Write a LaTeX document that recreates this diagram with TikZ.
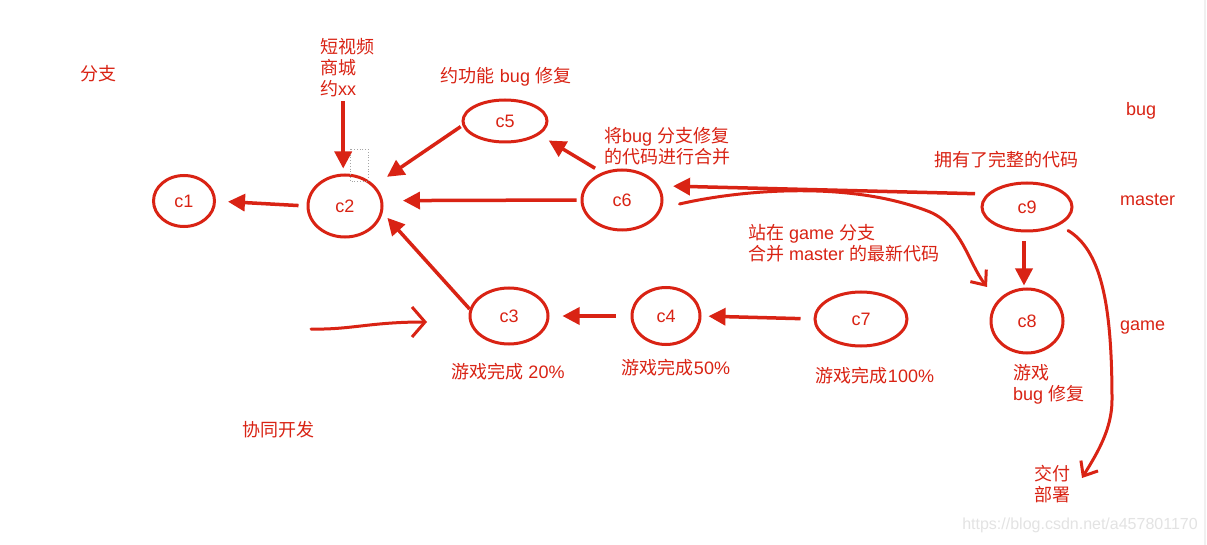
\documentclass[tikz,border=0pt]{standalone}
\usepackage{fontspec}
\setmainfont{Liberation Sans}
\newfontfamily\cjk{Noto Sans CJK SC}
\newcommand{\zh}[1]{{\cjk #1}}
\usetikzlibrary{shapes.geometric,arrows.meta,calc}
\definecolor{pen}{RGB}{217,35,20}
\begin{document}
\begin{tikzpicture}[x=1pt,y=-1pt,
  every node/.style={text=pen, font=\fontsize{18}{21}\selectfont},
  cnode/.style={ellipse, draw=pen, line width=3pt, inner sep=0pt},
  txt/.style={inner sep=0pt, align=left},
  arr/.style={draw=pen, line width=3.5pt, -{Triangle[length=17pt,width=17pt]}},
  barb/.style={draw=pen, line width=3pt, line cap=round, line join=round}
]
\useasboundingbox (0,0) rectangle (1207,545);
\fill[white] (0,0) rectangle (1207,545);
\draw[gray!12, line width=1.5pt] (1205,0) -- (1205,545);

% commits
\node[cnode, minimum width=61pt, minimum height=51pt] (c1) at (184,201) {c1};
\node[cnode, minimum width=74pt, minimum height=62pt] (c2) at (345,206) {c2};
\node[cnode, minimum width=84pt, minimum height=42pt] (c5) at (505,121) {c5};
\node[cnode, minimum width=80pt, minimum height=60pt] (c6) at (622,200) {c6};
\node[cnode, minimum width=90pt, minimum height=48pt] (c9) at (1027,207) {c9};
\node[cnode, minimum width=72pt, minimum height=64pt] (c8) at (1027,321) {c8};
\node[cnode, minimum width=78pt, minimum height=56pt] (c3) at (509,316) {c3};
\node[cnode, minimum width=68pt, minimum height=57pt] (c4) at (666,316) {c4};
\node[cnode, minimum width=92pt, minimum height=54pt] (c7) at (861,319) {c7};

% labels
\node[txt, anchor=west] (fz) at (80,74) {\zh{分支}};
\node[txt, anchor=west] (lbl) at (320,68) {\zh{短视频}\\\zh{商城}\\\zh{约}xx};
\node[txt] (l5) at (506,77) {\zh{约功能} bug \zh{修复}};
\node[txt, anchor=west] (l6) at (604,146) {\zh{将}bug \zh{分支修复}\\\zh{的代码进行合并}};
\node[txt, anchor=west] (l9) at (934,160) {\zh{拥有了完整的代码}};
\node[txt, anchor=west] (bbug) at (1126,111) {bug};
\node[txt, anchor=west] (bmaster) at (1120,200) {master};
\node[txt, anchor=west] (bgame) at (1120,328) {game};
\node[txt, anchor=west] (lm) at (748,243) {\zh{站在} game \zh{分支}\\\zh{合并} master \zh{的最新代码}};
\node[txt] (l3) at (508,372) {\zh{游戏完成} 20\%};
\node[txt] (l4) at (676,368) {\zh{游戏完成}50\%};
\node[txt] (l7) at (875,376) {\zh{游戏完成}100\%};
\node[txt, anchor=west] (l8) at (1013,384) {\zh{游戏}\\bug \zh{修复}};
\node[txt] (xt) at (278,430) {\zh{协同开发}};
\node[txt, anchor=west] (jf) at (1034,484) {\zh{交付}\\\zh{部署}};
\node[inner sep=0pt, text=gray!22, font=\fontsize{16}{16}\selectfont] (wm) at (1080,525) {https://blog.csdn.net/a457801170};

% dotted selection box
\draw[gray!70, dotted, line width=0.8pt] (350,149) rectangle (368,181);

% arrows
\draw[arr, shorten <=4pt, shorten >=5pt] ([xshift=-4pt]lbl.south) -- ([xshift=-4pt]lbl.south |- c2.north);
\draw[arr, shorten <=8pt, shorten >=12pt] (c2.west) -- (c1.east);
\draw[arr, shorten <=2pt, shorten >=15pt] (c5.186) -- (c2.35);
\draw[arr, shorten <=8pt, shorten >=11pt] (c6.126) -- (c5.-22);
\draw[arr, shorten <=4pt, shorten >=20pt] (c6.west) -- (c2.8);
\draw[arr, shorten >=7pt] (c3.170) -- (c2.-10);
\draw[arr, shorten <=15pt, shorten >=13pt] (c4.west) -- (c3.east);
\draw[arr, shorten <=13pt, shorten >=7pt] (c7.west) -- (c4.east);
\draw[arr, shorten <=12pt, shorten >=14pt] (c9.162) -- (c6.21);
\draw[arr, shorten <=9pt, shorten >=2pt] ([xshift=-3pt]c9.south) -- ([xshift=-3pt]c8.north);

% hand-drawn arrows
\coordinate (m8) at (987,287);
\draw[barb, -{Straight Barb[length=12pt,width=20pt]}] ([shift={(16,4)}]c6.east) .. controls (740,190) and (850,180) .. (930,212) .. controls (962,226) and (968,262) .. (m8);
\coordinate (dep) at (1082,478);
\draw[barb, -{Straight Barb[length=12pt,width=20pt]}] ([shift={(9,5)}]c9.-30) .. controls (1100,250) and (1112,300) .. (1112,400) .. controls (1112,430) and (1096,455) .. (dep);
\coordinate (h1) at (311,329);
\coordinate (h2) at (427,322);
\draw[barb, -{Straight Barb[length=13pt,width=30pt]}] (h1) .. controls (350,330) and (370,322) .. (h2);
\end{tikzpicture}
\end{document}
